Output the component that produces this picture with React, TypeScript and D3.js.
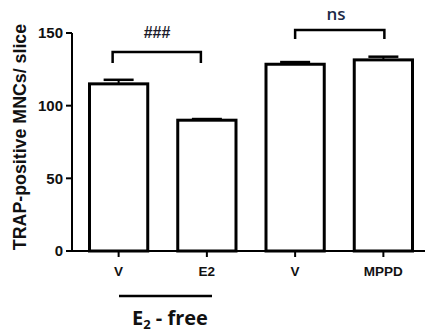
import React from "react";
import * as d3 from "d3";

const categories = ["V", "E2", "V2", "MPPD"];
const tickLabels = ["V", "E2", "V", "MPPD"];
const means = [115, 90, 128.5, 131.5];
const errors = [2.8, 0.8, 1.5, 2.2];
const yTicks = [0, 50, 100, 150];

const ARIAL = "'Liberation Sans', Arial, Helvetica, sans-serif";
const CAL = "'Open Sans', 'Noto Sans', sans-serif";

export default function App() {
  const W = 425, H = 336;
  const y = d3.scaleLinear().domain([0, 150]).range([251, 33]);
  const x = d3.scaleBand<string>().domain(categories).range([74.5, 427.5]).paddingInner(0.34).paddingOuter(0.17);
  const bw = x.bandwidth();
  const cx = (c: string) => (x(c) as number) + bw / 2;
  const bracket = (x1: number, x2: number, yTop: number, leg: number) =>
    `M${x1},${yTop + leg} V${yTop} H${x2} V${yTop + leg}`;
  return (
    <svg width={W} height={H} style={{ position: "absolute", left: 0, top: 0, background: "#fff" }}>
      {categories.map((c, i) => (
        <g key={c}>
          <line x1={cx(c)} x2={cx(c)} y1={y(means[i])} y2={y(means[i] + errors[i])} stroke="#000" strokeWidth={2} />
          <line x1={cx(c) - 15} x2={cx(c) + 15} y1={y(means[i] + errors[i])} y2={y(means[i] + errors[i])} stroke="#000" strokeWidth={2.5} />
          <rect x={x(c)} y={y(means[i])} width={bw} height={y(0) - y(means[i])} fill="#fff" stroke="#000" strokeWidth={3} />
        </g>
      ))}
      <line x1={72} x2={72} y1={y(150)} y2={y(0)} stroke="#000" strokeWidth={2} />
      {yTicks.map((t) => (
        <g key={t}>
          <line x1={66} x2={72} y1={y(t)} y2={y(t)} stroke="#000" strokeWidth={2} />
          <text x={63} y={y(t)} dy="0.36em" textAnchor="end" style={{ fontFamily: ARIAL }} fontWeight="bold" fontSize={15} fill="#111">{t}</text>
        </g>
      ))}
      <line x1={71} x2={425} y1={y(0)} y2={y(0)} stroke="#000" strokeWidth={2} />
      {categories.map((c, i) => (
        <g key={c}>
          <line x1={cx(c)} x2={cx(c)} y1={y(0)} y2={y(0) + 6} stroke="#000" strokeWidth={2} />
          <text x={cx(c)} y={276} textAnchor="middle" style={{ fontFamily: ARIAL }} fontWeight="bold" fontSize={13.5} fill="#111">{tickLabels[i]}</text>
        </g>
      ))}
      <text transform="translate(26,137) rotate(-90)" textAnchor="middle" style={{ fontFamily: ARIAL }} fontWeight="bold" fontSize={17.8} fill="#111">TRAP-positive MNCs/ slice</text>
      <path d={bracket(cx("V") - 6, cx("E2") - 6, 52, 11)} fill="none" stroke="#000" strokeWidth={2.5} />
      <text x={157} y={38} textAnchor="middle" style={{ fontFamily: ARIAL }} fontWeight="bold" fontSize={16} fill="#1a1a2a">###</text>
      <path d={bracket(cx("V2"), cx("MPPD") + 1, 30, 9)} fill="none" stroke="#000" strokeWidth={2.5} />
      <text x={336} y={20} textAnchor="middle" style={{ fontFamily: CAL }} fontWeight={600} fontSize={17} fill="#1c2a48">ns</text>
      <line x1={119} x2={212} y1={296} y2={296} stroke="#000" strokeWidth={2.5} />
      <text x={132} y={325} style={{ fontFamily: CAL }} fontWeight="bold" fontSize={20} fill="#111">
        E<tspan fontSize={13} dy={4}>2</tspan><tspan dy={-4}> - free</tspan>
      </text>
    </svg>
  );
}
